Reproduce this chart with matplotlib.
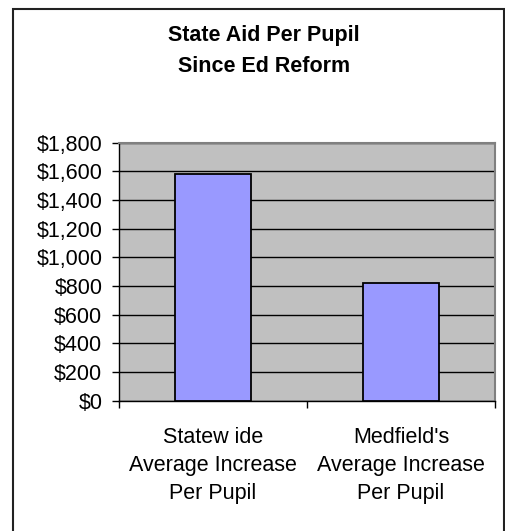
#!/usr/bin/env python3

import matplotlib
matplotlib.use("Agg")
import matplotlib.pyplot as plt
from matplotlib.patches import Rectangle
from matplotlib.ticker import FuncFormatter

categories = ["Statew ide\nAverage Increase\nPer Pupil",
              "Medfield's\nAverage Increase\nPer Pupil"]
values = [1585, 820]
y_ticks = [0, 200, 400, 600, 800, 1000, 1200, 1400, 1600, 1800]

plt.rcParams['font.family'] = ['Liberation Sans', 'DejaVu Sans']

fig = plt.figure(figsize=(5.05, 5.31), dpi=100)
fig.patch.set_facecolor("white")

# outer chart border
fig.patches.append(Rectangle((13 / 505, -0.01), 491 / 505, 0.993,
                             transform=fig.transFigure, fill=False,
                             edgecolor="#222222", linewidth=1.5))

ax = fig.add_axes([119 / 505, 1 - 400.7 / 531, 376 / 505, 258 / 531])
ax.set_facecolor("#C0C0C0")

x = list(range(len(values)))
ax.bar(x, values, width=0.4, color="#9999FF", edgecolor="black",
       linewidth=1.3, zorder=3)

ax.set_xlim(-0.5, 1.5)
ax.set_ylim(0, 1800)
ax.set_yticks(y_ticks)
ax.yaxis.set_major_formatter(FuncFormatter(lambda v, p: f"${v:,.0f}"))
ax.grid(axis="y", color="black", linewidth=1.0, zorder=1)

# category labels between the boundary ticks
ax.set_xticks([-0.5, 0.5, 1.5])
ax.set_xticklabels([])
ax.set_xticks(x, minor=True)
ax.set_xticklabels(categories, minor=True, fontsize=15.5, linespacing=1.42)
ax.tick_params(axis="x", which="minor", length=0, pad=19)
ax.tick_params(axis="x", which="major", length=5, width=1, color="black")
ax.tick_params(axis="y", length=5, width=1, labelsize=15.5, pad=7)

for side in ["top", "right"]:
    ax.spines[side].set_color("#808080")
    ax.spines[side].set_linewidth(1.5)
for side in ["left", "bottom"]:
    ax.spines[side].set_color("black")
    ax.spines[side].set_linewidth(1.0)

fig.text(0.522, 0.904, "State Aid Per Pupil\nSince Ed Reform",
         ha="center", va="center", fontsize=15.5, fontweight="bold",
         linespacing=1.58)

fig.savefig("out.png", dpi=100)
